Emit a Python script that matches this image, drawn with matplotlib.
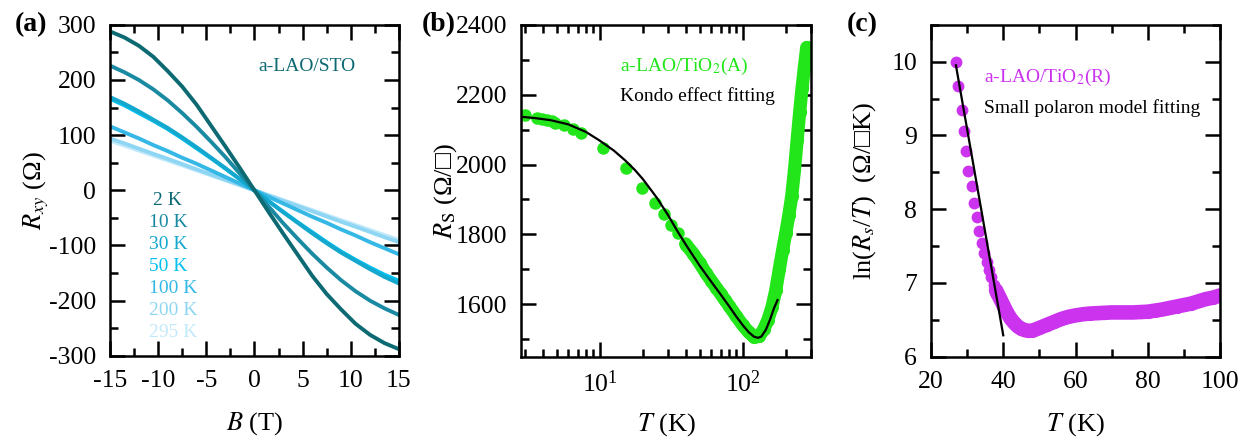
import numpy as np
import matplotlib
matplotlib.use("Agg")
import matplotlib.pyplot as plt
from matplotlib.ticker import MultipleLocator, LogLocator, NullFormatter

plt.rcParams['font.family'] = ['Liberation Serif', 'DejaVu Serif']
plt.rcParams['mathtext.fontset'] = 'stix'
plt.rcParams['axes.unicode_minus'] = False

## Data (a): Hall resistance vs field
B = [-15, -13.5, -12, -10.5, -9, -7.5, -6, -4.5, -3, -1.5, 0,
     1.5, 3, 4.5, 6, 7.5, 9, 10.5, 12, 13.5, 15]
temps_a = ["2 K", "10 K", "30 K", "50 K", "100 K", "200 K", "295 K"]
rxy_2K = [288, 277, 262, 242, 216, 188, 155, 117, 79, 40, 0,
          -40, -79, -117, -155, -188, -216, -242, -262, -277, -288]
rxy_10K = [226, 214, 200, 183, 163, 140, 115, 88, 60, 30, 0,
           -30, -60, -88, -115, -140, -163, -183, -200, -214, -226]
rxy_30K = [169, 157, 143, 128, 113, 96, 78, 59, 40, 20, 0,
           -20, -40, -59, -78, -96, -113, -128, -143, -157, -169]
rxy_50K = [166, 154, 140, 126, 111, 94, 76, 58, 39, 20, 0,
           -20, -39, -58, -76, -94, -111, -126, -140, -153, -164]
rxy_100K = [116, 105, 94, 82, 71, 59, 48, 36, 24, 12, 0,
            -12, -24, -36, -48, -59, -71, -82, -94, -105, -116]
rxy_200K = [94, 85, 75.5, 66, 57, 47.5, 38, 28.5, 19, 9.5, 0,
            -9.5, -19, -28.5, -38, -47.5, -57, -66, -75.5, -85, -94]
rxy_295K = [90, 81, 72, 63, 54, 45, 36, 27, 18, 9, 0,
            -9, -18, -27, -36, -45, -54, -63, -72, -81, -90]
colors_a = ['#0d6a72', '#1a8aa3', '#14a8cf', '#00c0f0', '#35b8e6', '#8ed6f3', '#c2e9f9']

## Data (b): sheet resistance vs T (log)
T_b_sparse = [3.0, 3.6, 3.9, 4.25, 4.6, 4.85, 5.6, 6.5, 7.4, 10.5, 15.1, 19.8, 24.2, 28.0, 31.6, 35.2, 39.1]
R_b_sparse = [2142, 2134, 2131, 2128, 2124, 2120, 2112, 2101, 2089, 2046, 1989, 1934, 1891, 1857, 1827, 1803, 1776]
T_b_dense = [40, 45, 50, 55, 60, 65, 70, 75, 80, 90, 100, 110, 120, 130, 140, 150, 160, 170, 180,
             190, 200, 210, 220, 230, 240, 250, 260, 270, 280]
R_b_dense = [1771, 1745, 1717, 1690, 1668, 1648, 1630, 1612, 1596, 1566, 1540, 1520, 1506, 1508, 1528, 1556, 1592, 1640, 1700,
             1755, 1805, 1855, 1910, 1985, 2070, 2150, 2220, 2280, 2335]
T_b_fit = [2.9, 3.5, 4.5, 6, 8, 10, 12.5, 15, 17.5, 20, 25, 30, 35, 40, 50, 60, 70, 80, 90, 100,
           110, 120, 128, 135, 145, 155, 165, 175]
R_b_fit = [2136, 2133, 2127, 2115, 2093, 2068, 2040, 2012, 1985, 1958, 1905, 1855, 1808, 1770, 1710, 1665, 1628, 1595, 1565, 1540,
           1520, 1507, 1504, 1508, 1527, 1556, 1588, 1612]

## Data (c): ln(Rs/T) vs T
T_c_sparse = [26.9, 27.4, 28.5, 29.2, 29.7, 30.3, 31.3, 32.0, 32.6, 33.3, 34.0, 34.8, 35.4, 36.1, 36.6, 37.3, 37.9]
L_c_sparse = [10.0, 9.67, 9.35, 9.06, 8.79, 8.52, 8.31, 8.08, 7.90, 7.70, 7.54, 7.40, 7.29, 7.17, 7.08, 6.97, 6.85]
T_c_dense = [38, 39, 40, 41, 42, 43, 44, 45, 46, 47, 48, 49, 50, 52, 54, 56, 58, 60, 62, 64, 66, 68, 70,
             72, 74, 76, 78, 80, 82, 84, 86, 88, 90, 92, 94, 96, 98, 100]
L_c_dense = [6.90, 6.80, 6.70, 6.60, 6.52, 6.46, 6.41, 6.38, 6.36, 6.35, 6.355, 6.37, 6.39, 6.43, 6.47, 6.51, 6.54, 6.56,
             6.575, 6.585, 6.59, 6.595, 6.60, 6.60, 6.60, 6.60, 6.605, 6.61, 6.625, 6.64, 6.66, 6.68, 6.70, 6.72,
             6.75, 6.78, 6.80, 6.83]
T_c_fit = [26.9, 40.0]
L_c_fit = [9.95, 6.29]

green = '#22e61a'
magenta = '#cc33ee'

fig = plt.figure(figsize=(12.49, 4.42), dpi=100)
ax1 = fig.add_axes([0.088, 0.195, 0.2314, 0.749])
ax2 = fig.add_axes([0.4171, 0.193, 0.2322, 0.751])
ax3 = fig.add_axes([0.7454, 0.193, 0.2314, 0.751])

def style(ax):
    ax.tick_params(which='both', direction='in', top=True, right=True, labelsize=18.5, pad=10)
    ax.tick_params(which='major', length=11, width=1.8)
    ax.tick_params(which='minor', length=6, width=1.8)
    for s in ax.spines.values():
        s.set_linewidth(1.8)

## (a)
series_a = [rxy_2K, rxy_10K, rxy_30K, rxy_50K, rxy_100K, rxy_200K, rxy_295K]
for i in range(len(series_a) - 1, -1, -1):
    ax1.plot(B, series_a[i], color=colors_a[i], lw=2.8)
ax1.set_xlim(-15, 15)
ax1.set_ylim(-300, 300)
ax1.xaxis.set_major_locator(MultipleLocator(5))
ax1.xaxis.set_minor_locator(MultipleLocator(2.5))
ax1.yaxis.set_major_locator(MultipleLocator(100))
ax1.yaxis.set_minor_locator(MultipleLocator(50))
style(ax1)
ax1.set_xlabel(r'$B$ (T)', fontsize=19)
ax1.set_ylabel(r'$R_{xy}$ (Ω)', fontsize=19)
ax1.xaxis.set_label_coords(0.5, -0.165)
ax1.yaxis.set_label_coords(-0.205, 0.5)
ax1.text(0.68, 0.875, 'a-LAO/STO', transform=ax1.transAxes, color='#0d6a72', fontsize=14, ha='center', va='center')
for i, t in enumerate(temps_a):
    ax1.text(0.15 if i == 0 else 0.135, 0.47 - i * 0.0665, t, transform=ax1.transAxes,
             color=colors_a[i], fontsize=14, ha='left', va='center')
fig.text(0.012, 0.945, '(a)', fontsize=20, fontweight='bold', va='center')

## (b)
ax2.plot(T_b_dense, R_b_dense, color=green, lw=9.5, solid_capstyle='round', zorder=2)
ax2.plot(T_b_dense, R_b_dense, 'o', color=green, ms=8.5, zorder=2)
ax2.plot(T_b_sparse, R_b_sparse, 'o', color=green, ms=8, zorder=2)
ax2.plot(T_b_fit, R_b_fit, color='black', lw=1.6, zorder=3)
ax2.set_xscale('log')
ax2.set_xlim(2.8, 300)
ax2.set_ylim(1450, 2400)
ax2.xaxis.set_major_locator(LogLocator(base=10))
ax2.xaxis.set_minor_locator(LogLocator(base=10, subs=np.arange(2, 10)))
ax2.xaxis.set_minor_formatter(NullFormatter())
ax2.yaxis.set_major_locator(MultipleLocator(200))
ax2.yaxis.set_minor_locator(MultipleLocator(100))
style(ax2)
ax2.set_xlabel(r'$T$ (K)', fontsize=19)
ax2.set_ylabel(r'$R_\mathrm{S}$ (Ω/□)', fontsize=19)
ax2.xaxis.set_label_coords(0.5, -0.165)
ax2.yaxis.set_label_coords(-0.215, 0.5)
ax2.text(0.34, 0.875, r'a-LAO/TiO$_2$(A)', transform=ax2.transAxes, color=green, fontsize=14, ha='left', va='center')
ax2.text(0.34, 0.785, 'Kondo effect fitting', transform=ax2.transAxes, color='black', fontsize=14, ha='left', va='center')
fig.text(0.338, 0.945, '(b)', fontsize=20, fontweight='bold', va='center')

## (c)
ax3.plot(T_c_dense, L_c_dense, color=magenta, lw=10.5, solid_capstyle='round', zorder=2)
ax3.plot(T_c_dense, L_c_dense, 'o', color=magenta, ms=8.5, zorder=2)
ax3.plot(T_c_sparse, L_c_sparse, 'o', color=magenta, ms=7.5, zorder=2)
ax3.plot(T_c_fit, L_c_fit, color='black', lw=1.6, zorder=3)
ax3.set_xlim(20, 100)
ax3.set_ylim(6, 10.5)
ax3.xaxis.set_major_locator(MultipleLocator(20))
ax3.xaxis.set_minor_locator(MultipleLocator(10))
ax3.yaxis.set_major_locator(MultipleLocator(1))
ax3.yaxis.set_minor_locator(MultipleLocator(0.5))
style(ax3)
ax3.set_xlabel(r'$T$ (K)', fontsize=19)
ax3.set_ylabel(r'ln($R_s$/$T$)  (Ω/□K)', fontsize=19)
ax3.xaxis.set_label_coords(0.5, -0.165)
ax3.yaxis.set_label_coords(-0.185, 0.5)
ax3.text(0.185, 0.84, r'a-LAO/TiO$_2$(R)', transform=ax3.transAxes, color=magenta, fontsize=14, ha='left', va='center')
ax3.text(0.185, 0.75, 'Small polaron model fitting', transform=ax3.transAxes, color='black', fontsize=14, ha='left', va='center')
fig.text(0.678, 0.945, '(c)', fontsize=20, fontweight='bold', va='center')

fig.savefig('out.png', dpi=100)
